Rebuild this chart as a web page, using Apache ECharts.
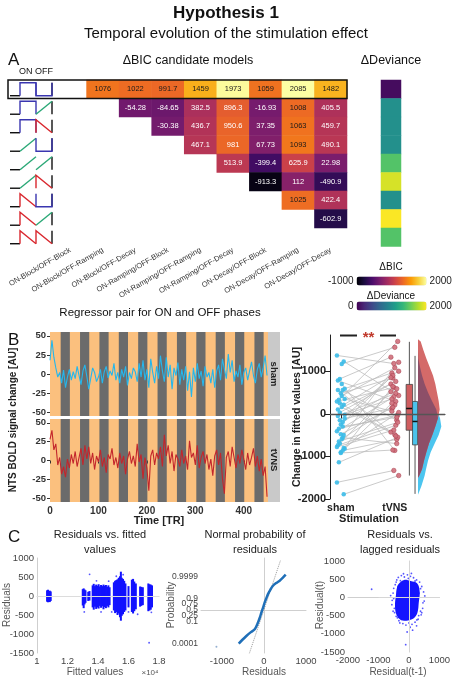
<!DOCTYPE html>
<html>
<head>
<meta charset="utf-8">
<script src="https://cdn.jsdelivr.net/npm/echarts@6/dist/echarts.min.js"></script>
<style>
html, body { margin: 0; padding: 0; background: #fff; }
#chart { width: 453px; height: 680px; }
</style>
</head>
<body>
<div id="chart"></div>
<script>
// ---- panel A: delta BIC between candidate regressor pairs
const MODELS = ['ON-Block/OFF-Block', 'ON-Block/OFF-Ramping', 'ON-Block/OFF-Decay',
  'ON-Ramping/OFF-Block', 'ON-Ramping/OFF-Ramping', 'ON-Ramping/OFF-Decay',
  'ON-Decay/OFF-Block', 'ON-Decay/OFF-Ramping', 'ON-Decay/OFF-Decay'];
const KINDS = ['Block', 'Ramping', 'Decay'];
const BIC_ROWS = [
  [1076, 1022, 991.7, 1459, 1973, 1059, 2085, 1482],
  [-54.28, -84.65, 382.5, 896.3, -16.93, 1008, 405.5],
  [-30.38, 436.7, 950.6, 37.35, 1063, 459.7],
  [467.1, 981, 67.73, 1093, 490.1],
  [513.9, -399.4, 625.9, 22.98],
  [-913.3, 112, -490.9],
  [1025, 422.4],
  [-602.9],
  []
];
const DEVIANCE = [60, 1000, 1000, 1000, 1450, 1880, 1000, 1990, 1450];

// ---- panel B: NTS time courses (every 4th TR)
const TR_STEP = 4;
const SHAM_SIGNAL = [18, 44, 22, 8, -4, 2, -12, 5, -18, -4,
  6, -8, 3, -6, 10, -2, -14, 4, 12, -3,
  -20, -6, 8, 2, -10, -4, 6, -12, 3, 10,
  -5, 4, -2, 14, -8, 2, -12, 6, -4, 10,
  -15, 2, -6, 8, 3, -10, 14, -4, 18, -8,
  6, -18, 20, 2, -12, 10, -6, 24, 4, -10,
  22, -4, 12, -20, 8, -2, 15, -14, 6, -8,
  10, -22, 3, -30, 8, -10, 14, -6, 4, -16,
  10, -4, 2, -12, 6, -18, 4, 12, -8, 20,
  6, -6, 26, 2, 18, -10, 4, -4, 12, -14,
  2, 8, -8, 4, 16, -2, -12, 6, 14, -4,
  8, 24, -2];
const TVNS_SIGNAL = [28, 40, 14, 22, -6, 4, -18, -8, -22, 2,
  -10, 8, -4, 12, -8, 4, 16, -6, 20, 2,
  18, -4, 10, -12, 6, -2, 14, -8, 4, -16,
  8, 2, 16, -6, 4, -10, 10, -4, 6, -18,
  2, 12, -4, 6, -8, 22, -2, 8, -24, 4,
  -10, -40, 6, 14, -6, 10, 2, 18, -8, 34,
  6, 20, -4, 12, -14, 8, 2, -8, 14, -4,
  6, -12, 26, 4, 10, -6, 20, -10, 4, 12,
  -4, 8, -12, 2, -20, 6, 14, -6, 10, -24,
  -44, 4, 12, -8, 18, 4, -10, 8, -4, 14,
  2, -12, 10, -6, 4, 16, -8, 6, -14, 2,
  -20, -8, -48];
const OFF_ONSETS = [22, 62, 102, 142, 182, 222, 262, 302, 342, 382, 422];
const OFF_LENGTH = 19;

// ---- panel B: change in fitted values per subject
const SHAM_VALUES = [1370, 1230, 1170, 820, 780, 590, 560, 480, 330, 290, 210, 160, 30, -50, -110,
  -190, -250, -350, -410, -500, -590, -700, -740, -820, -860, -900, -1140, -1610, -1890, 420,
  250, 100, -20, -300, -480, -650, -780, -800, 700, -150, 560, 350, -560, -920];
const TVNS_VALUES = [1180, 430, 1560, 1330, 290, 960, -150, 840, 1700, 620, 1000, -490, 700, 480, 130,
  590, 900, -30, 400, 1210, 210, 520, -270, 250, -600, 640, -550, -1330, -1450, 1080,
  -430, 760, 350, -80, 150, -200, -380, 30, -860, 850, -520, 60, -700, -850];
const SHAM_BOX = [-1880, -730, -180, 290, 1360];
const TVNS_BOX = [-1450, -385, 125, 690, 1690];
const VIOLIN_LEVELS = [1750, 1700, 1500, 1300, 1100, 900, 700, 500, 300, 100, -100, -300,
  -500, -700, -900, -1100, -1300, -1450, -1500, -1700, -1900];
const VIOLIN_TVNS = [0, 8, 16, 25, 35, 45, 52, 57, 62, 65, 60, 52, 43, 33, 25, 18, 12, 4, 0, 0, 0];
const VIOLIN_SHAM = [0, 0, 0, 1, 6, 12, 20, 30, 42, 55, 66, 70, 62, 50, 38, 30, 24, 20, 18, 10, 0];

// ---- panel C: residual diagnostics
const STRIPE_X = [1.066, 1.072, 1.078, 1.084, 1.090, 1.300, 1.306, 1.312, 1.318, 1.336, 1.344,
  1.365, 1.372, 1.380, 1.388, 1.396, 1.404, 1.412, 1.420, 1.428, 1.436, 1.444, 1.452, 1.460, 1.468, 1.476,
  1.504, 1.512, 1.520, 1.528, 1.536, 1.544, 1.550, 1.556, 1.564, 1.572, 1.580, 1.600,
  1.622, 1.630, 1.638, 1.648, 1.676, 1.684, 1.694, 1.730, 1.738, 1.746, 1.754];
const STRIPE_LO = [-150, -165, -140, -160, -130, -250, -320, -220, -180, -130, -120,
  -300, -360, -280, -340, -300, -330, -260, -310, -270, -350, -290, -320, -260, -300, -240,
  -380, -450, -420, -500, -460, -560, -650, -520, -480, -420, -380, -300,
  -420, -460, -400, -350, -280, -260, -240, -400, -380, -360, -300];
const STRIPE_HI = [150, 165, 130, 140, 120, 180, 200, 170, 150, 110, 130,
  280, 320, 260, 300, 270, 310, 250, 290, 260, 300, 270, 290, 240, 280, 230,
  360, 400, 420, 440, 480, 520, 640, 480, 450, 400, 330, 260,
  430, 450, 380, 330, 250, 240, 230, 330, 310, 300, 280];
const FIT_OUTLIERS = [[1.345, 570], [1.735, -1230], [1.31, -420], [1.42, -420], [1.47, 390],
  [1.60, -420], [1.66, -480], [1.52, 520], [1.49, -420], [1.565, 560], [1.39, 400], [1.75, -430]];

const NORM_RESID = [-602, -520, -420, -320, -221, -143, -100, -62, -20, 17, 55, 95, 150, 214, 290, 374, 450, 517];
const NORM_Z = [-3.76, -3.35, -2.9, -2.5, -2.15, -1.4, -0.85, -0.28, 0.3, 0.84, 1.3, 1.77, 2.25, 2.7, 3.0, 3.27, 3.6, 3.94];
const NORM_REF_RESID = [-357, 390];
const NORM_REF_Z = [-4.96, 5.5];
const NORM_OUTLIER = [[-1133, -4.1]];
const PROB_TICKS = ['0.0001', '0.1', '0.25', '0.5', '0.75', '0.9', '0.9999'];
const PROB_Z = [-3.719, -1.2816, -0.6745, 0, 0.6745, 1.2816, 3.719];

const CLOUD_X = [-319, -160, 53, 266, 351, 320, 288, 213, 53, -160, -319, -426, -458, -426, -394];
const CLOUD_Y = [389, 479, 452, 389, 160, -160, -388, -525, -616, -643, -589, -434, -205, 68, 268];
const LAG_POINTS = [[-520, 120], [-480, -300], [-450, 350], [-400, 480], [-380, -560], [-350, 550], [-300, -700],
  [-250, 600], [-200, -720], [-150, 560], [-100, -760], [-50, 620], [0, -700], [50, 580], [100, -740], [150, 540],
  [200, -680], [250, 480], [300, -600], [350, 420], [400, -480], [420, 300], [450, -300], [480, 150], [500, -100],
  [460, -150], [380, -380], [-550, -80], [-560, -200], [-500, 250], [-470, -420], [-420, -520], [120, -560],
  [-20, 520], [-280, 460], [320, -500], [-600, 50], [520, 40], [-330, -640], [260, -620], [-180, 650], [80, 660],
  [380, 240], [-420, 420], [40, -820], [-120, -600], [200, 450], [-250, -600], [420, -420], [-520, -380],
  [-1224, 224], [-107, -1300], [120, -900], [-60, -950], [250, -780], [-350, 300], [330, 120], [-500, -30]];

const FONT = '"Liberation Sans", Arial, sans-serif';
const INFERNO = ['#000004', '#1b0c41', '#4a0c6b', '#781c6d', '#a52c60', '#cf4446', '#ed6925', '#fb9b06', '#f7d13d', '#fcffa4'];
const VIRIDIS = ['#440154', '#482878', '#3e4989', '#31688e', '#26828e', '#1f9e89', '#35b779', '#6ece58', '#b5de2b', '#fde725'];
const KIND_COLORS = ['#3a36b0', '#2aa876', '#d9272e'];
const ON_SHAPES = [[[0, 0], [0, 1], [1, 1], [1, 0]], [[0, 0], [1, 1]], [[0, 0], [0, 1], [1, 0]]];
const OFF_SHAPES = [[[0, 1], [0, 0], [1, 0], [1, 1]], [[0, 0], [1, 1]], [[0, 0], [0, 1], [1, 0]]];

let chart = echarts.init(document.getElementById('chart'))

let bicData = []
BIC_ROWS.forEach((row, r) => {
  let start = MODELS.length - row.length
  row.forEach((v, k) => {
    bicData.push({ value: [start + k, r, v], label: { color: v > 985 ? '#1a1a1a' : '#ffffff' } })
  })
})
let iconData = MODELS.map((m, r) => {
  let [on, off] = m.split('/')
  return [r, KINDS.indexOf(on.split('-')[1]), KINDS.indexOf(off.split('-')[1])]
})

function txt(text, x, y, o) {
  o = o || {}
  return {
    type: 'text', x, y, rotation: o.rot || 0, z: 100,
    style: {
      text, align: o.align || 'center', verticalAlign: 'middle',
      fontSize: o.size || 11, fontWeight: o.bold ? 'bold' : 'normal',
      fontFamily: FONT, fill: o.color || '#111'
    }
  }
}
function hline(x1, x2, y, color, w) {
  return { type: 'line', z: 100, shape: { x1, y1: y, x2, y2: y }, style: { stroke: color, lineWidth: w } }
}

const plain = v => String(v)
const tsLabel = { fontSize: 9.5, fontWeight: 'bold', color: '#333', fontFamily: FONT, margin: 4, formatter: plain }
const cLabel = { fontSize: 9.5, color: '#444', fontFamily: FONT, margin: 3, formatter: plain }
const cLine = { show: true, lineStyle: { color: '#cfcfcf' } }
const noSplit = { show: false }

function tsSeries(values, color, idx) {
  return {
    type: 'line', xAxisIndex: idx, yAxisIndex: idx, showSymbol: false, silent: true,
    data: values.map((v, i) => [i * TR_STEP, v]),
    lineStyle: { color, width: 1.1 },
    markArea: {
      silent: true, itemStyle: { color: '#6b6b6b' },
      data: OFF_ONSETS.map(s => [{ xAxis: s }, { xAxis: s + OFF_LENGTH }])
    }
  }
}

const jitS = i => (((i * 7) % 9) - 4) * 0.018
const jitT = i => (((i * 5 + 3) % 9) - 4) * 0.018

chart.setOption({
  animation: false,
  grid: [
    { left: 54, top: 80, width: 293, height: 166.5 },
    { left: 381, top: 80, width: 20, height: 166.5 },
    { left: 8, top: 80, width: 46, height: 166.5 },
    { left: 50, top: 332, width: 218, height: 84, show: true, backgroundColor: '#fbc07e', borderWidth: 0 },
    { left: 50, top: 419, width: 218, height: 83, show: true, backgroundColor: '#fbc07e', borderWidth: 0 },
    { left: 330, top: 335, width: 115, height: 164 },
    { left: 37, top: 558, width: 122, height: 95 },
    { left: 201, top: 558, width: 105, height: 95 },
    { left: 348, top: 561, width: 94, height: 91 }
  ],
  xAxis: [
    {
      type: 'category', gridIndex: 0, data: MODELS,
      axisLine: { show: false }, axisTick: { show: false }, splitLine: noSplit,
      axisLabel: { interval: 0, rotate: 30, fontSize: 7.5, color: '#333', fontFamily: FONT, margin: 3 }
    },
    { type: 'category', gridIndex: 1, data: ['dev'], show: false },
    { type: 'value', gridIndex: 2, min: 0, max: 4.6, show: false },
    {
      type: 'value', gridIndex: 3, min: 0, max: 450, splitLine: noSplit,
      axisLine: { show: false }, axisTick: { show: false }, axisLabel: { show: false }
    },
    {
      type: 'value', gridIndex: 4, min: 0, max: 450, splitLine: noSplit,
      axisLine: { show: false },
      axisTick: { show: true, length: 3, lineStyle: { color: '#333' }, customValues: [0, 100, 200, 300, 400] },
      axisLabel: Object.assign({}, tsLabel, { fontSize: 10, customValues: [0, 100, 200, 300, 400] })
    },
    {
      type: 'value', gridIndex: 5, min: 0.8, max: 2.93, splitLine: noSplit,
      axisLine: { show: true, lineStyle: { color: '#222' } },
      axisTick: { show: true, customValues: [1, 2], lineStyle: { color: '#222' } },
      axisLabel: {
        customValues: [1, 2], fontSize: 10.5, fontWeight: 'bold', color: '#222', fontFamily: FONT, margin: 4,
        formatter: v => (v === 1 ? 'sham' : 'tVNS')
      }
    },
    {
      type: 'value', gridIndex: 6, min: 1, max: 1.8, splitLine: noSplit, axisLine: cLine,
      axisTick: { show: false },
      axisLabel: Object.assign({}, cLabel, { customValues: [1, 1.2, 1.4, 1.6, 1.8], formatter: v => String(+v.toFixed(1)) })
    },
    {
      type: 'value', gridIndex: 7, min: -1500, max: 1000, splitLine: noSplit, axisLine: cLine,
      axisTick: { show: false }, axisLabel: Object.assign({}, cLabel, { customValues: [-1000, 0, 1000] })
    },
    {
      type: 'value', gridIndex: 8, min: -2000, max: 1000, interval: 1000, splitLine: noSplit, axisLine: cLine,
      axisTick: { show: false }, axisLabel: cLabel
    }
  ],
  yAxis: [
    { type: 'category', gridIndex: 0, data: MODELS, inverse: true, show: false },
    { type: 'category', gridIndex: 1, data: MODELS, inverse: true, show: false },
    { type: 'value', gridIndex: 2, min: 0, max: 9, inverse: true, show: false },
    {
      type: 'value', gridIndex: 3, min: -55, max: 55, splitLine: noSplit, axisLine: { show: false },
      axisTick: { show: true, length: 3, customValues: [-50, -25, 0, 25, 50], lineStyle: { color: '#333' } },
      axisLabel: Object.assign({}, tsLabel, { customValues: [-50, -25, 0, 25, 50] })
    },
    {
      type: 'value', gridIndex: 4, min: -55, max: 55, splitLine: noSplit, axisLine: { show: false },
      axisTick: { show: true, length: 3, customValues: [-50, -25, 0, 25, 50], lineStyle: { color: '#333' } },
      axisLabel: Object.assign({}, tsLabel, { customValues: [-50, -25, 0, 25, 50] })
    },
    {
      type: 'value', gridIndex: 5, min: -2000, max: 1850, splitLine: noSplit,
      axisLine: { show: true, lineStyle: { color: '#222' } },
      axisTick: { show: true, customValues: [-2000, -1000, 0, 1000], lineStyle: { color: '#222' } },
      axisLabel: { customValues: [-2000, -1000, 0, 1000], fontSize: 11, fontWeight: 'bold', color: '#222', fontFamily: FONT, margin: 4, formatter: plain }
    },
    {
      type: 'value', gridIndex: 6, min: -1500, max: 1000, interval: 500, splitLine: noSplit, axisLine: cLine,
      axisTick: { show: false }, axisLabel: cLabel
    },
    {
      type: 'value', gridIndex: 7, min: -4.8, max: 5.8, splitLine: noSplit, axisLine: cLine,
      axisTick: { show: false },
      axisLabel: Object.assign({}, cLabel, {
        fontSize: 8.5, hideOverlap: false, customValues: PROB_Z,
        formatter: v => PROB_TICKS[PROB_Z.findIndex(z => Math.abs(z - v) < 1e-6)]
      })
    },
    {
      type: 'value', gridIndex: 8, min: -1500, max: 1000, interval: 500, splitLine: noSplit, axisLine: cLine,
      axisTick: { show: false }, axisLabel: cLabel
    }
  ],
  visualMap: [
    {
      type: 'continuous', seriesIndex: 0, min: -1000, max: 2000, calculable: false,
      orient: 'horizontal', left: 313, top: 261, itemWidth: 9, itemHeight: 70, textGap: 3,
      text: ['2000', '-1000'], textStyle: { fontSize: 10, color: '#222', fontFamily: FONT },
      inRange: { color: INFERNO }
    },
    {
      type: 'continuous', seriesIndex: 1, min: 0, max: 2000, calculable: false,
      orient: 'horizontal', left: 333, top: 286, itemWidth: 9, itemHeight: 70, textGap: 3,
      text: ['2000', '0'], textStyle: { fontSize: 10, color: '#222', fontFamily: FONT },
      inRange: { color: VIRIDIS }
    }
  ],
  series: [
    {
      type: 'heatmap', xAxisIndex: 0, yAxisIndex: 0, data: bicData, emphasis: { disabled: true },
      label: { show: true, fontSize: 7.5, fontFamily: FONT, formatter: p => String(p.value[2]) }
    },
    {
      type: 'heatmap', xAxisIndex: 1, yAxisIndex: 1, emphasis: { disabled: true },
      data: DEVIANCE.map((v, r) => [0, r, v])
    },
    {
      type: 'custom', xAxisIndex: 2, yAxisIndex: 2, silent: true, data: iconData,
      renderItem: (params, api) => {
        let r = api.value(0), on = api.value(1), off = api.value(2)
        let yb = r + 0.85, yt = r + 0.15
        let pt = (x, f) => api.coord([x, yb + (yt - yb) * f])
        let seg = (x0, shape) => shape.map(p => pt(x0 + p[0] * 1.6, p[1]))
        let pl = (points, color) => ({ type: 'polyline', shape: { points }, style: { stroke: color, lineWidth: 1.4, fill: null } })
        return {
          type: 'group', children: [
            pl([pt(0.2, 0), pt(1.2, 0)], '#111'),
            pl([pt(4.4, 0), pt(4.4, 1)], '#111'),
            pl(seg(1.2, ON_SHAPES[on]), KIND_COLORS[on]),
            pl(seg(2.8, OFF_SHAPES[off]), KIND_COLORS[off])
          ]
        }
      }
    },
    tsSeries(SHAM_SIGNAL, '#25b6ec', 3),
    tsSeries(TVNS_SIGNAL, '#c3262c', 4),
    {
      type: 'lines', coordinateSystem: 'cartesian2d', xAxisIndex: 5, yAxisIndex: 5, silent: true,
      lineStyle: { color: '#bdbdbd', width: 0.8, opacity: 1 },
      data: SHAM_VALUES.map((s, i) => ({ coords: [[1 + jitS(i), s], [2 + jitT(i), TVNS_VALUES[i]]] }))
    },
    {
      type: 'custom', xAxisIndex: 5, yAxisIndex: 5, silent: true, data: [[2.4, 0]],
      renderItem: (params, api) => {
        const base = 2.43, scale = 1 / 162
        let poly = widths => {
          let pts = VIOLIN_LEVELS.map((lv, i) => api.coord([base + widths[i] * scale, lv]))
          pts.push(api.coord([base, VIOLIN_LEVELS[VIOLIN_LEVELS.length - 1]]))
          pts.push(api.coord([base, VIOLIN_LEVELS[0]]))
          return pts
        }
        let overlap = VIOLIN_TVNS.map((w, i) => Math.min(w, VIOLIN_SHAM[i]))
        let box = (cx, w, s, fill) => {
          let x = api.coord([cx, 0])[0]
          let y = v => api.coord([cx, v])[1]
          return [
            { type: 'line', shape: { x1: x, y1: y(s[4]), x2: x, y2: y(s[0]) }, style: { stroke: '#555', lineWidth: 1 } },
            { type: 'rect', shape: { x: x - w / 2, y: y(s[3]), width: w, height: y(s[1]) - y(s[3]) }, style: { fill, stroke: '#444', lineWidth: 0.8 } },
            { type: 'line', shape: { x1: x - w / 2, y1: y(s[2]), x2: x + w / 2, y2: y(s[2]) }, style: { stroke: '#111', lineWidth: 1.5 } }
          ]
        }
        return {
          type: 'group', children: [
            { type: 'polygon', shape: { points: poly(VIOLIN_SHAM) }, style: { fill: '#4cc5ef' } },
            { type: 'polygon', shape: { points: poly(VIOLIN_TVNS) }, style: { fill: '#d46a69' } },
            { type: 'polygon', shape: { points: poly(overlap) }, style: { fill: '#8d4f68' } }
          ].concat(box(2.27, 6.5, TVNS_BOX, '#cf5d5f'), box(2.375, 5, SHAM_BOX, '#4cc3ec'))
        }
      }
    },
    {
      type: 'scatter', xAxisIndex: 5, yAxisIndex: 5, silent: true, symbolSize: 4.5,
      itemStyle: { color: '#3bbbe8', opacity: 0.9 },
      data: SHAM_VALUES.map((s, i) => [1 + jitS(i), s]),
      markLine: {
        silent: true, symbol: 'none', label: { show: false },
        lineStyle: { color: '#555', width: 1.3, type: 'solid' }, data: [{ yAxis: 0 }]
      }
    },
    {
      type: 'scatter', xAxisIndex: 5, yAxisIndex: 5, silent: true, symbolSize: 4.5,
      itemStyle: { color: '#d0707c', borderColor: '#a8404f', borderWidth: 0.6, opacity: 0.9 },
      data: TVNS_VALUES.map((t, i) => [2 + jitT(i), t])
    },
    {
      type: 'custom', xAxisIndex: 6, yAxisIndex: 6, silent: true,
      data: STRIPE_X.map((x, i) => [x, STRIPE_LO[i], STRIPE_HI[i]]),
      renderItem: (params, api) => {
        let top = api.coord([api.value(0), api.value(2)])
        let bot = api.coord([api.value(0), api.value(1)])
        return { type: 'rect', shape: { x: top[0] - 1, y: top[1], width: 2, height: bot[1] - top[1] }, style: { fill: '#1212ff' } }
      }
    },
    {
      type: 'scatter', xAxisIndex: 6, yAxisIndex: 6, silent: true, symbolSize: 1.8,
      itemStyle: { color: '#2a2aff' }, data: FIT_OUTLIERS,
      markLine: {
        silent: true, symbol: 'none', label: { show: false },
        lineStyle: { color: '#dcdcdc', width: 1, type: 'solid' }, data: [{ yAxis: 0 }]
      }
    },
    {
      type: 'line', xAxisIndex: 7, yAxisIndex: 7, silent: true, showSymbol: false,
      data: NORM_REF_RESID.map((r, i) => [r, NORM_REF_Z[i]]),
      lineStyle: { color: '#9a9a9a', width: 1, type: 'dotted' }
    },
    {
      type: 'line', xAxisIndex: 7, yAxisIndex: 7, silent: true, showSymbol: false, smooth: 0.3,
      data: NORM_RESID.map((r, i) => [r, NORM_Z[i]]),
      lineStyle: { color: '#1f6fb8', width: 2.5 }
    },
    {
      type: 'scatter', xAxisIndex: 7, yAxisIndex: 7, silent: true, symbolSize: 2,
      itemStyle: { color: '#7a9cc6' }, data: NORM_OUTLIER
    },
    {
      type: 'custom', xAxisIndex: 8, yAxisIndex: 8, silent: true, data: [[0, 0]],
      renderItem: (params, api) => ({
        type: 'polygon',
        shape: { points: CLOUD_X.map((x, i) => api.coord([x, CLOUD_Y[i]])), smooth: 0.4 },
        style: { fill: '#1414ff' }
      })
    },
    {
      type: 'scatter', xAxisIndex: 8, yAxisIndex: 8, silent: true, symbolSize: 1.8,
      itemStyle: { color: '#2a2aff' }, data: LAG_POINTS, z: 1,
      markLine: {
        silent: true, symbol: 'none', label: { show: false },
        lineStyle: { color: '#d6d6d6', width: 1, type: 'solid' },
        data: [[{ coord: [-1000, 0] }, { coord: [1000, 0] }], { xAxis: 0 }]
      }
    }
  ],
  graphic: [
    txt('Hypothesis 1', 226, 13, { size: 17, bold: true }),
    txt('Temporal evolution of the stimulation effect', 226, 34, { size: 15 }),
    txt('A', 8, 60, { size: 17, align: 'left' }),
    txt('ON OFF', 19, 72, { size: 9, align: 'left' }),
    txt('ΔBIC candidate models', 188, 61, { size: 12.5 }),
    txt('ΔDeviance', 391, 61, { size: 12.5 }),
    { type: 'rect', z: 100, shape: { x: 8, y: 80, width: 339, height: 18.5 }, style: { fill: null, stroke: '#111', lineWidth: 1.5 } },
    txt('ΔBIC', 391, 267, { size: 10 }),
    txt('ΔDeviance', 391, 296, { size: 10 }),
    txt('Regressor pair for ON and OFF phases', 160, 313, { size: 11.5 }),
    txt('B', 8, 340, { size: 17, align: 'left' }),
    { type: 'rect', z: 100, shape: { x: 268, y: 332, width: 12, height: 84 }, style: { fill: '#c9c9c9' } },
    { type: 'rect', z: 100, shape: { x: 268, y: 419, width: 12, height: 83 }, style: { fill: '#c9c9c9' } },
    txt('sham', 274, 374, { size: 9.5, bold: true, rot: -Math.PI / 2, color: '#222' }),
    txt('tVNS', 274, 460, { size: 9.5, bold: true, rot: -Math.PI / 2, color: '#222' }),
    txt('NTS BOLD signal change [AU]', 13, 420, { size: 10, bold: true, rot: Math.PI / 2, color: '#222' }),
    txt('Time [TR]', 159, 521, { size: 11, bold: true, color: '#222' }),
    txt('Change in fitted values [AU]', 297, 417, { size: 10.5, bold: true, rot: Math.PI / 2, color: '#222' }),
    txt('Stimulation', 369, 519, { size: 11, bold: true, color: '#222' }),
    hline(340, 357, 335.5, '#222', 2),
    hline(380, 396, 335.5, '#222', 2),
    txt('**', 368.5, 338, { size: 15, bold: true, color: '#c0392b' }),
    txt('C', 8, 537, { size: 17, align: 'left' }),
    txt('Residuals vs. fitted', 100, 535, { size: 11, color: '#222' }),
    txt('values', 100, 550, { size: 11, color: '#222' }),
    txt('Normal probability of', 255, 535, { size: 11, color: '#222' }),
    txt('residuals', 255, 550, { size: 11, color: '#222' }),
    txt('Residuals vs.', 400, 535, { size: 11, color: '#222' }),
    txt('lagged residuals', 400, 550, { size: 11, color: '#222' }),
    txt('Fitted values', 95, 672, { size: 10, color: '#555' }),
    txt('×10⁴', 150, 673, { size: 8, color: '#555' }),
    txt('Residuals', 7, 605, { size: 10, color: '#555', rot: Math.PI / 2 }),
    txt('Probability', 171, 605, { size: 10, color: '#555', rot: Math.PI / 2 }),
    txt('Residuals', 264, 672, { size: 10, color: '#555' }),
    txt('Residual(t)', 320, 605, { size: 10, color: '#555', rot: Math.PI / 2 }),
    txt('Residual(t-1)', 398, 672, { size: 10, color: '#555' })
  ]
})
</script>
</body>
</html>
